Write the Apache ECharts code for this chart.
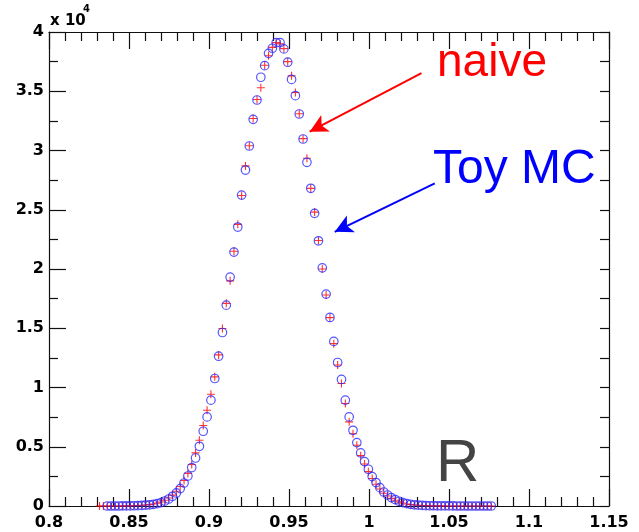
<!DOCTYPE html>
<html>
<head>
<meta charset="utf-8">
<script src="https://cdn.jsdelivr.net/npm/echarts@6/dist/echarts.min.js"></script>
<style>
  html, body { margin: 0; padding: 0; background: #fff; }
  #chart { width: 639px; height: 532px; }
</style>
</head>
<body>
<div id="chart"></div>
<script>
// bin centres in R
const binCentres = [
  0.8316, 0.8340,
  0.8364, 0.8388, 0.8412, 0.8436, 0.8460, 0.8484, 0.8508, 0.8532, 0.8556, 0.8580,
  0.8604, 0.8628, 0.8652, 0.8676, 0.8700, 0.8724, 0.8748, 0.8772, 0.8796, 0.8820,
  0.8844, 0.8868, 0.8892, 0.8916, 0.8940, 0.8964, 0.8988, 0.9012, 0.9036, 0.9060,
  0.9084, 0.9108, 0.9132, 0.9156, 0.9180, 0.9204, 0.9228, 0.9252, 0.9276, 0.9300,
  0.9324, 0.9348, 0.9372, 0.9396, 0.9420, 0.9444, 0.9468, 0.9492, 0.9516, 0.9540,
  0.9564, 0.9588, 0.9612, 0.9636, 0.9660, 0.9684, 0.9708, 0.9732, 0.9756, 0.9780,
  0.9804, 0.9828, 0.9852, 0.9876, 0.9900, 0.9924, 0.9948, 0.9972, 0.9996, 1.0020,
  1.0044, 1.0068, 1.0092, 1.0116, 1.0140, 1.0164, 1.0188, 1.0212, 1.0236, 1.0260,
  1.0284, 1.0308, 1.0332, 1.0356, 1.0380, 1.0404, 1.0428, 1.0452, 1.0476, 1.0500,
  1.0524, 1.0548, 1.0572, 1.0596, 1.0620, 1.0644, 1.0668, 1.0692, 1.0716, 1.0740,
  1.0764
];

// entries, in units of 10^4
const naive = [
  0, 0,
  0, 0, 0, 0.0005, 0.001, 0.001, 0.002, 0.003, 0.004, 0.006,
  0.008, 0.012, 0.017, 0.024, 0.034, 0.048, 0.067, 0.092, 0.125, 0.165,
  0.215, 0.275, 0.350, 0.448, 0.555, 0.679, 0.808, 0.943, 1.090, 1.275,
  1.498, 1.710, 1.900, 2.150, 2.377, 2.620, 2.870, 3.040, 3.270, 3.430,
  3.530, 3.720, 3.800, 3.870, 3.910, 3.900, 3.860, 3.750, 3.630, 3.490,
  3.310, 3.100, 2.934, 2.680, 2.480, 2.240, 2.000, 1.780, 1.590, 1.370,
  1.190, 1.034, 0.865, 0.710, 0.610, 0.513, 0.425, 0.355, 0.290, 0.232,
  0.183, 0.143, 0.108, 0.084, 0.064, 0.048, 0.035, 0.025, 0.017, 0.012,
  0.008, 0.006, 0.004, 0.003, 0.002, 0.001, 0.001, 0.001, 0.0005, 0.0005,
  0, 0, 0, 0, 0, 0, 0, 0, 0, 0,
  0
];

const toyMC = [
  null, null,
  0, 0, 0, 0, 0.0005, 0.001, 0.001, 0.002, 0.003, 0.005,
  0.007, 0.010, 0.014, 0.020, 0.029, 0.042, 0.059, 0.082, 0.110, 0.147,
  0.194, 0.253, 0.324, 0.405, 0.504, 0.631, 0.752, 0.893, 1.076, 1.264,
  1.464, 1.695, 1.932, 2.143, 2.354, 2.624, 2.835, 3.038, 3.263, 3.426,
  3.618, 3.716, 3.820, 3.863, 3.910, 3.910, 3.857, 3.745, 3.600, 3.463,
  3.308, 3.097, 2.900, 2.681, 2.470, 2.238, 2.010, 1.788, 1.591, 1.389,
  1.211, 1.068, 0.893, 0.752, 0.639, 0.535, 0.448, 0.375, 0.310, 0.248,
  0.198, 0.155, 0.118, 0.093, 0.071, 0.054, 0.040, 0.029, 0.020, 0.014,
  0.010, 0.007, 0.005, 0.003, 0.002, 0.002, 0.001, 0.001, 0.001, 0.0005,
  0.0005, 0, 0, 0, 0, 0, 0, 0, 0, 0,
  0
];

// arrow annotations [from, to] in data coords
const naiveArrow = [[1.0328, 3.652], [0.9629, 3.159]];
const toyArrow = [[1.0411, 2.723], [0.9786, 2.314]];

const pairs = (ys) => binCentres
  .map((x, i) => [x, ys[i]])
  .filter((p) => p[1] !== null);

const axisColor = '#111';
const labelFont = { fontFamily: 'DejaVu Sans', fontWeight: 'bold', fontSize: 16, color: '#000' };

const chart = echarts.init(document.getElementById('chart'));

const arrow = (pts, color) => ({
  silent: true,
  symbol: ['none', 'arrow'],
  symbolSize: [14, 18],
  label: { show: false },
  lineStyle: { color, width: 2, type: 'solid' },
  data: [[{ coord: pts[0] }, { coord: pts[1] }]],
});

const xTicks = {
  axisLine: { show: true, onZero: false, lineStyle: { color: axisColor, width: 1.2 } },
  axisTick: { show: true, inside: true, length: 17, lineStyle: { color: axisColor, width: 1.2 } },
  minorTick: { show: true, splitNumber: 5, length: 9, lineStyle: { color: axisColor, width: 1.2 } },
  splitLine: { show: false },
};

chart.setOption({
  animation: false,
  backgroundColor: '#fff',
  grid: { left: 49, right: 30, top: 32, bottom: 26 },
  xAxis: [
    {
      type: 'value', position: 'bottom', min: 0.8, max: 1.15, interval: 0.05,
      ...xTicks,
      axisLabel: { ...labelFont, margin: 9, formatter: (v) => String(+v.toFixed(2)) },
    },
    {
      type: 'value', position: 'top', min: 0.8, max: 1.15, interval: 0.05,
      ...xTicks,
      axisLabel: { show: false },
    },
  ],
  yAxis: [
    {
      type: 'value', position: 'left', min: 0, max: 4, interval: 0.5,
      axisLine: { show: true, onZero: false, lineStyle: { color: axisColor, width: 1.2 } },
      axisTick: { show: true, inside: true, length: 17, lineStyle: { color: axisColor, width: 1.2 } },
      minorTick: { show: true, splitNumber: 2, length: 9, lineStyle: { color: axisColor, width: 1.2 } },
      axisLabel: { ...labelFont, margin: 5 },
      splitLine: { show: false },
    },
    {
      type: 'value', position: 'right', min: 0, max: 4, interval: 0.25,
      axisLine: { show: true, onZero: false, lineStyle: { color: axisColor, width: 1.2 } },
      axisTick: { show: true, inside: true, length: 9, lineStyle: { color: axisColor, width: 1.2 } },
      axisLabel: { show: false },
      splitLine: { show: false },
    },
  ],
  series: [
    {
      name: 'naive',
      type: 'scatter',
      symbol: 'path://M0,5H10M5,0V10',
      symbolSize: 8,
      itemStyle: { color: 'transparent', borderColor: '#ff0000', borderWidth: 1.1 },
      data: pairs(naive),
      markLine: arrow(naiveArrow, '#ff0000'),
      z: 2,
    },
    {
      name: 'Toy MC',
      type: 'scatter',
      symbol: 'circle',
      symbolSize: 8.5,
      itemStyle: { color: 'transparent', borderColor: '#2a2aff', borderWidth: 1.2 },
      data: pairs(toyMC),
      markLine: arrow(toyArrow, '#0000ff'),
      z: 3,
    },
  ],
  graphic: [
    {
      type: 'text', left: 50, top: 14,
      style: { text: 'x 10', font: 'bold 15px "DejaVu Sans"', fill: '#000' },
    },
    {
      type: 'text', left: 83, top: 4,
      style: { text: '4', font: 'bold 10px "DejaVu Sans"', fill: '#000' },
    },
    {
      type: 'text', x: 437, y: 63,
      style: { text: 'naive', font: '46px "Liberation Sans"', fill: '#ff0000', verticalAlign: 'middle' },
    },
    {
      type: 'text', x: 433, y: 170,
      style: { text: 'Toy MC', font: '48px "Liberation Sans"', fill: '#0000ff', verticalAlign: 'middle' },
    },
    {
      type: 'text', x: 436, y: 464,
      style: { text: 'R', font: '60px "Liberation Sans"', fill: '#444444', verticalAlign: 'middle' },
    },
  ],
});
</script>
</body>
</html>
